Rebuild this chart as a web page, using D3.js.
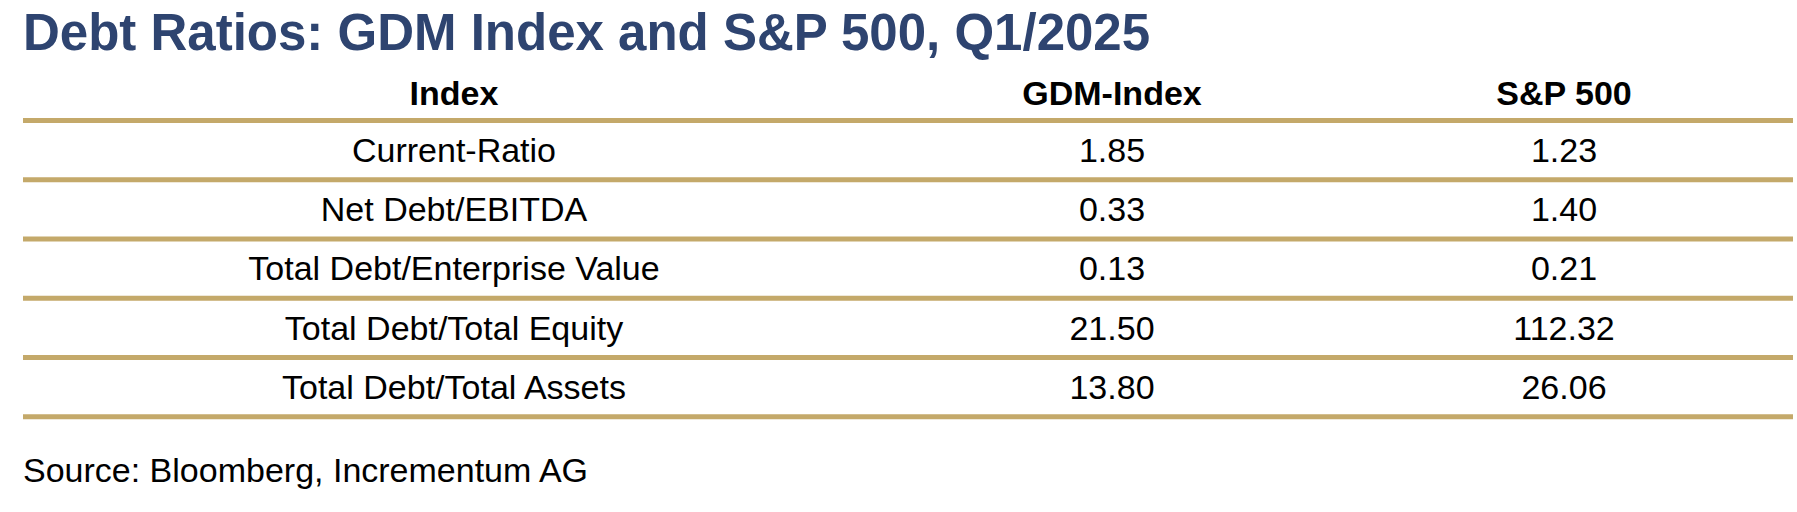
<!DOCTYPE html>
<html><head><meta charset="utf-8">
<script src="https://cdn.jsdelivr.net/npm/d3@7"></script>
<style>body{margin:0;background:#fff}text{font-family:"Liberation Sans",Arial,sans-serif}</style>
</head><body><svg id="chart"></svg>
<script>
const title = "Debt Ratios: GDM Index and S&P 500, Q1/2025";
const headers = ["Index", "GDM-Index", "S&P 500"];
const metrics = ["Current-Ratio", "Net Debt/EBITDA", "Total Debt/Enterprise Value", "Total Debt/Total Equity", "Total Debt/Total Assets"];
const gdmValues = [1.85, 0.33, 0.13, 21.50, 13.80];
const spValues = [1.23, 1.40, 0.21, 112.32, 26.06];
const source = "Source: Bloomberg, Incrementum AG";

const width = 1797, height = 512;
const gold = "#c4a96a";
const svg = d3.select("#chart").attr("width", width).attr("height", height);

svg.append("text").attr("x", 23).attr("y", 50)
    .style("font-size", "51px").style("font-weight", "bold").style("fill", "#2e4470")
    .text(title);

// column centers
const x = d3.scaleOrdinal().domain([0, 1, 2]).range([454, 1112, 1564]);
// row centers
const y = d3.scalePoint().domain(d3.range(metrics.length)).range([150, 387]);

svg.selectAll(".hdr").data(headers).enter().append("text")
    .attr("x", (d, i) => x(i)).attr("y", 93).attr("dy", "0.35em")
    .attr("text-anchor", "middle").style("font-size", "34px").style("font-weight", "bold")
    .text(d => d);

const step = y.step();
const lines = [y(0) - step / 2].concat(d3.range(metrics.length).map(i => y(i) + step / 2));
svg.selectAll(".rule").data(lines).enter().append("line")
    .attr("x1", 23).attr("x2", 1793).attr("y1", d => d).attr("y2", d => d)
    .attr("stroke", gold).attr("stroke-width", 5);

const rows = metrics.map((m, i) => [m, gdmValues[i].toFixed(2), spValues[i].toFixed(2)]);
rows.forEach((r, i) => {
    svg.selectAll(".r" + i).data(r).enter().append("text")
        .attr("x", (d, j) => x(j)).attr("y", y(i)).attr("dy", "0.35em")
        .attr("text-anchor", "middle").style("font-size", "34px")
        .text(d => d);
});

svg.append("text").attr("x", 23).attr("y", 470).attr("dy", "0.35em")
    .style("font-size", "34px").text(source);
</script></body></html>
